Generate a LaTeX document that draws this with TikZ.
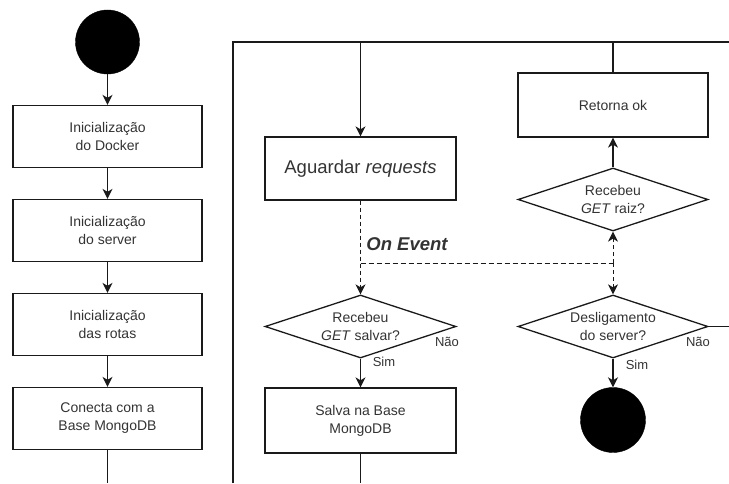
\documentclass[tikz,border=0pt]{standalone}
\usepackage{fontspec}
\setsansfont{Liberation Sans}
\usepackage{xcolor}
\definecolor{lineBlack}{HTML}{1A1A1A}
\definecolor{textGray}{HTML}{333333}
\usepackage{tikz}
\usetikzlibrary{
    shapes.geometric,
    arrows.meta,
    positioning
}
\tikzset{
    % Base style for all nodes
    flow base/.style={
        font=\sffamily\fontsize{14}{18}\selectfont,
        align=center,
        text=textGray,
        draw=lineBlack,
        line width=1.3pt,
    },
    % Start/Stop nodes - filled black circle
    terminal/.style={
        circle,
        draw=black,
        fill=black,
        minimum size=64pt,
        inner sep=0pt,
    },
    % Process nodes - plain rectangle
    process/.style={
        flow base,
        rectangle,
        minimum width=189pt,
        minimum height=62pt,
        inner sep=0pt,
    },
    % Decision diamond - flat
    decision/.style={
        flow base,
        diamond,
        aspect=3,
        minimum width=191pt,
        minimum height=63pt,
        inner sep=-6pt,
    },
    % Arrow style
    arrow/.style={
        -{Stealth[length=10pt, width=10pt, inset=3pt]},
        line width=1.3pt,
        draw=lineBlack,
    },
    % Dashed arrow variant
    arrow dashed/.style={
        arrow,
        line width=1pt,
        dash pattern=on 4pt off 3pt,
    },
    % Plain connector without tip
    plain line/.style={
        line width=1.3pt,
        draw=lineBlack,
    },
    % Label style for Sim/Nao
    edge label/.style={
        font=\sffamily\fontsize{13}{15}\selectfont,
        text=textGray,
        inner sep=1pt,
    },
}

\begin{document}
\begin{tikzpicture}[x=1pt, y=1pt, node distance=94pt, font=\sffamily]
    \useasboundingbox (0,0) rectangle (729,483);

    % startup column
    \node (start) [terminal] at (107.5,441) {};
    \node (docker) [process] at (107.5,346.5) {Inicialização\\do Docker};
    \node (server) [process, below of=docker] {Inicialização\\do server};
    \node (rotas) [process, below of=server] {Inicialização\\das rotas};
    \node (mongo) [process, below of=rotas] {Conecta com a\\Base MongoDB};
    \coordinate (mongo_out) at (107.5,0);

    \draw [arrow] (start) -- (docker);
    \draw [arrow] (docker) -- (server);
    \draw [arrow] (server) -- (rotas);
    \draw [arrow] (rotas) -- (mongo);
    \draw [plain line] (mongo) -- (mongo_out);

    % server loop frame
    \coordinate (frame_bl) at (233,0);
    \coordinate (frame_tl) at (233,441);
    \coordinate (frame_tr) at (729,441);
    \draw [plain line] (frame_bl) -- (frame_tl) -- (frame_tr);

    % request column
    \coordinate (loop_top) at (360.5,441);
    \node (wait) [process, font=\sffamily\fontsize{18.5}{22}\selectfont, minimum width=191pt, minimum height=63pt] at (360.5,314.5) {Aguardar \textit{requests}};
    \node (save_q) [decision] at (360.5,156.5) {Recebeu\\\textit{GET} salvar?};
    \node (save) [process, minimum width=191pt, minimum height=65pt] at (360.5,62.5) {Salva na Base\\MongoDB};
    \coordinate (save_out) at (360.5,0);
    \coordinate (event) at (360.5,220);
    \node (on_event) [font=\sffamily\bfseries\itshape\fontsize{18.5}{22}\selectfont, text=textGray, inner sep=0pt] at (407,239) {On Event};
    \node (save_no) [edge label] at (447,141) {Não};
    \node (save_yes) [edge label] at (384,121) {Sim};

    % response column
    \coordinate (back_top) at (613,441);
    \node (ok) [process, minimum width=190pt, minimum height=64pt] at (613,378) {Retorna ok};
    \node (root_q) [decision, minimum width=190pt] at (613,283.5) {Recebeu\\\textit{GET} raiz?};
    \coordinate (event_r) at (613,220);
    \node (stop_q) [decision, minimum width=190pt] at (613,156.5) {Desligamento\\do server?};
    \coordinate (stop_out) at (729,156.5);
    \node (end) [terminal, minimum size=65pt] at (613,63) {};
    \node (stop_no) [edge label] at (698,141) {Não};
    \node (stop_yes) [edge label] at (637,118) {Sim};

    \draw [arrow] (loop_top) -- (wait);
    \draw [arrow dashed] (wait) -- (save_q);
    \draw [plain line, line width=1pt, dash pattern=on 5pt off 3pt] (event) -- (event_r);
    \draw [arrow dashed] (event_r) -- (root_q);
    \draw [arrow dashed] (event_r) -- (stop_q);
    \draw [arrow] (save_q) -- (save);
    \draw [plain line] (save) -- (save_out);
    \draw [plain line] (back_top) -- (ok);
    \draw [arrow] (root_q) -- (ok);
    \draw [plain line] (stop_q.east) -- (stop_out);
    \draw [arrow] (stop_q) -- (end);
\end{tikzpicture}
\end{document}
